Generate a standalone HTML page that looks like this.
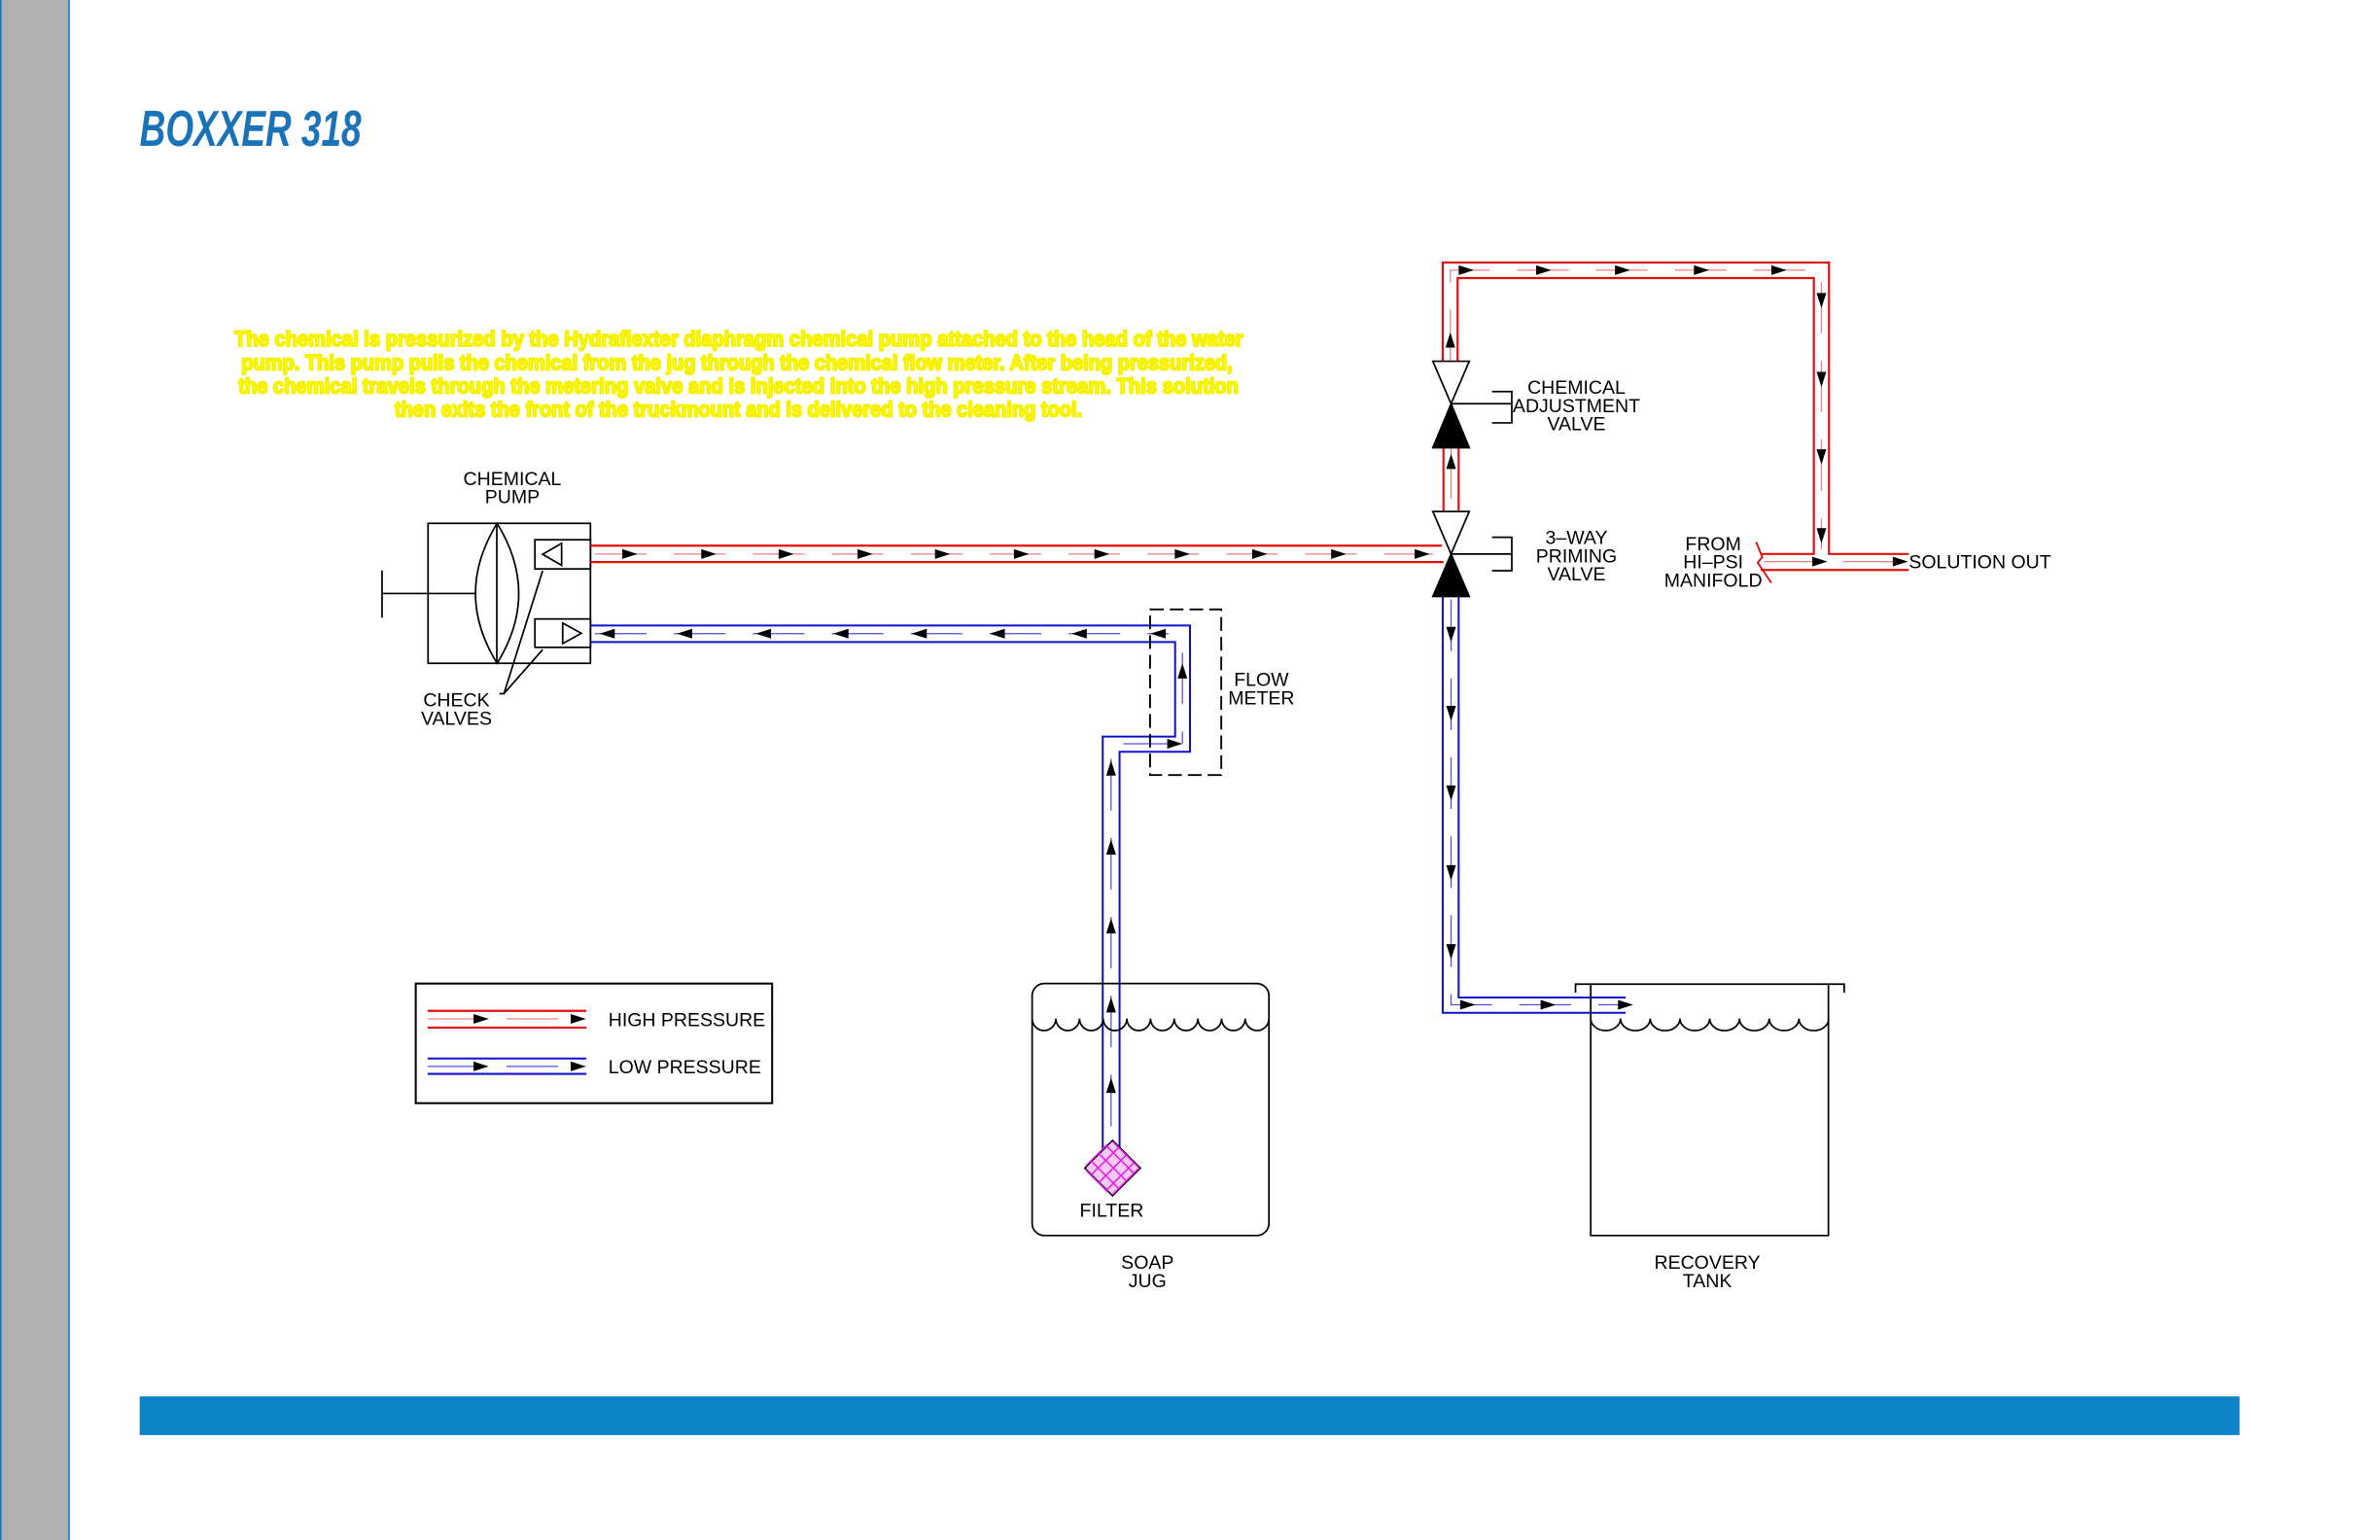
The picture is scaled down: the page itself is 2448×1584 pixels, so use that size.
<!DOCTYPE html>
<html><head><meta charset="utf-8"><style>
html,body{margin:0;padding:0;background:#fff;}
svg{display:block;}
text{font-family:"Liberation Sans",sans-serif;}
.lb{font-size:12.5px;fill:#000;text-anchor:middle;}
</style></head><body>
<svg width="2448" height="1584" viewBox="0 0 1568 1014.6" xmlns="http://www.w3.org/2000/svg">
<defs>
<polygon id="ar" points="0,0 -10,-3.2 -10,3.2" fill="#000"/>
</defs>
<rect x="0" y="0" width="1568" height="1014.6" fill="#fff"/>
<rect x="0" y="0" width="45.8" height="1014.6" fill="#b0b0b0"/>
<line x1="0.5" y1="0" x2="0.5" y2="1014.6" stroke="#1a75bb" stroke-width="1"/>
<line x1="45.5" y1="0" x2="45.5" y2="1014.6" stroke="#1a75bb" stroke-width="1"/>

<text x="92" y="96" font-size="33" font-style="italic" font-weight="bold" fill="#1a72b8" textLength="146" lengthAdjust="spacingAndGlyphs">BOXXER 318</text>

<g font-size="14" font-weight="bold" fill="#ffff00" stroke="#f4f000" stroke-width="1.3" stroke-linejoin="round">
<text x="154.4" y="228" textLength="664.6" lengthAdjust="spacingAndGlyphs">The chemical is pressurized by the Hydraflexter diaphragm chemical pump attached to the head of the water</text>
<text x="159" y="243.6" textLength="653" lengthAdjust="spacingAndGlyphs">pump. This pump pulls the chemical from the jug through the chemical flow meter. After being pressurized,</text>
<text x="157" y="259" textLength="659" lengthAdjust="spacingAndGlyphs">the  chemical travels through the metering valve and is injected into the high pressure stream. This solution</text>
<text x="260" y="274.6" textLength="453" lengthAdjust="spacingAndGlyphs">then exits the front of the truckmount and is delivered to the cleaning tool.</text>
</g>

<rect x="92" y="920" width="1383.5" height="25.5" fill="#0e82c8"/>

<!-- Pump -->
<g stroke="#000" stroke-width="1.1" fill="none">
<rect x="282" y="344.8" width="107" height="92.2"/>
<path d="M327.5,344.8 Q299,391 327.5,437 Q356,391 327.5,344.8 Z"/>
<line x1="327.3" y1="344.8" x2="327.3" y2="437"/>
<line x1="251.7" y1="391" x2="313.5" y2="391"/>
<line x1="251.7" y1="375.8" x2="251.7" y2="406.9"/>
<rect x="352.4" y="355.6" width="36.6" height="19.2" fill="#fff"/>
<polygon points="357.5,365.2 370,358 370,372.5"/>
<rect x="352.4" y="407.8" width="36.6" height="18.7" fill="#fff"/>
<polygon points="370.7,410.5 383,417.2 370.7,424"/>
<polyline points="329,457 332,457 357.5,376"/>
<line x1="332" y1="457" x2="357.5" y2="428"/>
</g>
<text class="lb" x="337.5" y="319.5">CHEMICAL</text>
<text class="lb" x="337.5" y="331.5">PUMP</text>
<text class="lb" x="300.7" y="465.5">CHECK</text>
<text class="lb" x="300.7" y="477.5">VALVES</text>

<!-- Red high pressure main -->
<g stroke="#e01010" stroke-width="1.4" fill="none">
<line x1="389" y1="359.5" x2="950" y2="359.5"/>
<line x1="389" y1="370.3" x2="951" y2="370.3"/>
<line x1="951" y1="294.8" x2="951" y2="337"/>
<line x1="961" y1="294.8" x2="961" y2="337"/>
<polyline points="950.5,238 950.5,173 1205,173 1205,365 1257.6,365"/>
<polyline points="960.3,238 960.3,183.2 1195,183.2 1195,365 1160,365"/>
<line x1="1160" y1="375.5" x2="1257.6" y2="375.5"/>
<polyline points="1157,357 1161,367 1158,370.7 1167,384" stroke-width="1.2"/>
</g>
<g stroke="#f08080" stroke-width="0.8" fill="none" stroke-dasharray="34 18">
<line x1="392" y1="365" x2="944" y2="365"/>
<line x1="956" y1="294.8" x2="956" y2="337"/>
<polyline points="955.5,238 955.5,178 1200,178 1200,362"/>
<line x1="1162" y1="370" x2="1257" y2="370"/>
</g>
<g>
<use href="#ar" x="420" y="365"/><use href="#ar" x="472" y="365"/><use href="#ar" x="523" y="365"/>
<use href="#ar" x="575" y="365"/><use href="#ar" x="626" y="365"/><use href="#ar" x="678" y="365"/>
<use href="#ar" x="731" y="365"/><use href="#ar" x="784" y="365"/><use href="#ar" x="835" y="365"/>
<use href="#ar" x="887" y="365"/><use href="#ar" x="942" y="365"/>
<use href="#ar" transform="translate(956,299) rotate(-90)"/>
<use href="#ar" transform="translate(955.5,219) rotate(-90)"/>
<use href="#ar" x="971" y="178"/><use href="#ar" x="1022" y="178"/><use href="#ar" x="1074" y="178"/>
<use href="#ar" x="1126" y="178"/><use href="#ar" x="1177" y="178"/>
<use href="#ar" transform="translate(1200,203) rotate(90)"/>
<use href="#ar" transform="translate(1200,255) rotate(90)"/>
<use href="#ar" transform="translate(1200,306) rotate(90)"/>
<use href="#ar" transform="translate(1200,358) rotate(90)"/>
<use href="#ar" x="1204" y="370"/><use href="#ar" x="1257" y="370"/>
</g>

<!-- Valves -->
<g stroke="#000" stroke-width="1.1">
<polygon points="944,238 968,238 956,266" fill="#fff"/>
<polygon points="956,266 944,295 968,295" fill="#000"/>
<line x1="956" y1="266" x2="996" y2="266"/>
<polyline points="983,258 996,258 996,278.6 983,278.6" fill="none"/>
<polygon points="944,337 968,337 956,365" fill="#fff"/>
<polygon points="956,365 944,393 968,393" fill="#000"/>
<line x1="956" y1="365" x2="996" y2="365"/>
<polyline points="983,354 996,354 996,376 983,376" fill="none"/>
</g>
<text class="lb" x="1038.6" y="259.5">CHEMICAL</text>
<text class="lb" x="1038.6" y="271.5">ADJUSTMENT</text>
<text class="lb" x="1038.6" y="283.5">VALVE</text>
<text class="lb" x="1038.6" y="358.5">3–WAY</text>
<text class="lb" x="1038.6" y="370.5">PRIMING</text>
<text class="lb" x="1038.6" y="382.5">VALVE</text>
<text class="lb" x="1128.7" y="362.5">FROM</text>
<text class="lb" x="1128.7" y="374.5">HI–PSI</text>
<text class="lb" x="1128.7" y="386.5">MANIFOLD</text>
<text class="lb" x="1257.6" y="374.5" style="text-anchor:start">SOLUTION  OUT</text>

<!-- Blue low pressure -->
<g stroke="#1010d0" stroke-width="1.3" fill="none">
<polyline points="950.5,393 950.5,667.3 1071,667.3"/>
<polyline points="961,393 961,657.2 1071,657.2"/>
<polyline points="389,412.1 784,412.1 784,495.3 737.6,495.3 737.6,757"/>
<polyline points="389,423 774.2,423 774.2,485.3 726.5,485.3 726.5,757"/>
</g>
<g stroke="#5050e0" stroke-width="0.8" fill="none" stroke-dasharray="34 18">
<polyline points="956,395 956,662 1074,662"/>
<line x1="392" y1="417.5" x2="770" y2="417.5"/>
<line x1="779" y1="430" x2="779" y2="490"/>
<line x1="740" y1="490" x2="779" y2="490"/>
<line x1="732" y1="500" x2="732" y2="757"/>
</g>
<g>
<use href="#ar" transform="translate(956,423) rotate(90)"/>
<use href="#ar" transform="translate(956,475) rotate(90)"/>
<use href="#ar" transform="translate(956,527.5) rotate(90)"/>
<use href="#ar" transform="translate(956,580) rotate(90)"/>
<use href="#ar" transform="translate(956,632) rotate(90)"/>
<use href="#ar" x="972" y="662"/><use href="#ar" x="1025" y="662"/><use href="#ar" x="1076" y="662"/>
<use href="#ar" transform="translate(395,417.5) rotate(180)"/>
<use href="#ar" transform="translate(446,417.5) rotate(180)"/>
<use href="#ar" transform="translate(498,417.5) rotate(180)"/>
<use href="#ar" transform="translate(549,417.5) rotate(180)"/>
<use href="#ar" transform="translate(600.6,417.5) rotate(180)"/>
<use href="#ar" transform="translate(652,417.5) rotate(180)"/>
<use href="#ar" transform="translate(706,417.5) rotate(180)"/>
<use href="#ar" transform="translate(758,417.5) rotate(180)"/>
<use href="#ar" transform="translate(779,437) rotate(-90)"/>
<use href="#ar" x="779" y="490"/>
<use href="#ar" transform="translate(732,501) rotate(-90)"/>
<use href="#ar" transform="translate(732,553) rotate(-90)"/>
<use href="#ar" transform="translate(732,605) rotate(-90)"/>
<use href="#ar" transform="translate(732,657) rotate(-90)"/>
<use href="#ar" transform="translate(732,710) rotate(-90)"/>
</g>

<!-- Flow meter -->
<g stroke="#000" stroke-width="1.2" fill="none" stroke-dasharray="9 4">
<rect x="757.7" y="401.5" width="46.9" height="109.1"/>
</g>
<text class="lb" x="831" y="452">FLOW</text>
<text class="lb" x="831" y="464">METER</text>

<!-- Soap jug -->
<g stroke="#000" stroke-width="1.1" fill="none">
<rect x="680" y="648" width="156" height="166" rx="8"/>
<path d="M680,671 a7.8,8 0 0 0 15.6,0 a7.8,8 0 0 0 15.6,0 a7.8,8 0 0 0 15.6,0 a7.8,8 0 0 0 15.6,0 a7.8,8 0 0 0 15.6,0 a7.8,8 0 0 0 15.6,0 a7.8,8 0 0 0 15.6,0 a7.8,8 0 0 0 15.6,0 a7.8,8 0 0 0 15.6,0 a7.8,8 0 0 0 15.6,0"/>
</g>
<g>
<polygon points="733,751.3 751.3,769.6 733,787.8 714.7,769.6" fill="#f8c8f8" stroke="#000" stroke-width="1"/>
<g stroke="#e020e0" stroke-width="1">
<line x1="719" y1="765" x2="737" y2="783"/><line x1="724" y1="760" x2="742" y2="778"/>
<line x1="729" y1="755" x2="747" y2="773"/><line x1="715.5" y1="771" x2="730" y2="785.5"/>
<line x1="733" y1="752" x2="750" y2="769"/>
<line x1="719" y1="774" x2="737" y2="756"/><line x1="724" y1="779" x2="742" y2="761"/>
<line x1="729" y1="784" x2="747" y2="766"/><line x1="715.5" y1="768" x2="730" y2="753.5"/>
<line x1="733" y1="787" x2="750" y2="770"/>
</g>
</g>
<text class="lb" x="732.4" y="801.5">FILTER</text>
<text class="lb" x="756" y="836">SOAP</text>
<text class="lb" x="756" y="848">JUG</text>

<!-- Recovery tank -->
<g stroke="#000" stroke-width="1.1" fill="none">
<polyline points="1038,654 1038,648.4 1215,648.4 1215,654"/>
<polyline points="1048,648.4 1048,814 1204.6,814 1204.6,648.4"/>
<path d="M1048,671 a9.8,8 0 0 0 19.6,0 a9.8,8 0 0 0 19.6,0 a9.8,8 0 0 0 19.6,0 a9.8,8 0 0 0 19.6,0 a9.8,8 0 0 0 19.6,0 a9.8,8 0 0 0 19.6,0 a9.8,8 0 0 0 19.6,0 a9.8,8 0 0 0 19.6,0"/>
</g>
<text class="lb" x="1124.8" y="836">RECOVERY</text>
<text class="lb" x="1124.8" y="848">TANK</text>

<!-- Legend -->
<rect x="273.9" y="648" width="234.8" height="78.8" fill="none" stroke="#000" stroke-width="1.3"/>
<g stroke="#e01010" stroke-width="1.4"><line x1="281.7" y1="666" x2="386.3" y2="666"/><line x1="281.7" y1="677" x2="386.3" y2="677"/></g>
<line x1="281.7" y1="671.3" x2="386" y2="671.3" stroke="#f08080" stroke-width="0.8" stroke-dasharray="34 18"/>
<use href="#ar" x="322" y="671.3"/><use href="#ar" x="386" y="671.3"/>
<g stroke="#1010d0" stroke-width="1.3"><line x1="281.7" y1="697.4" x2="386.3" y2="697.4"/><line x1="281.7" y1="707.5" x2="386.3" y2="707.5"/></g>
<line x1="281.7" y1="702.6" x2="386" y2="702.6" stroke="#5050e0" stroke-width="0.8" stroke-dasharray="34 18"/>
<use href="#ar" x="322" y="702.6"/><use href="#ar" x="386" y="702.6"/>
<text x="400.8" y="676" font-size="12.5">HIGH  PRESSURE</text>
<text x="400.8" y="707" font-size="12.5">LOW  PRESSURE</text>
</svg>
</body></html>
